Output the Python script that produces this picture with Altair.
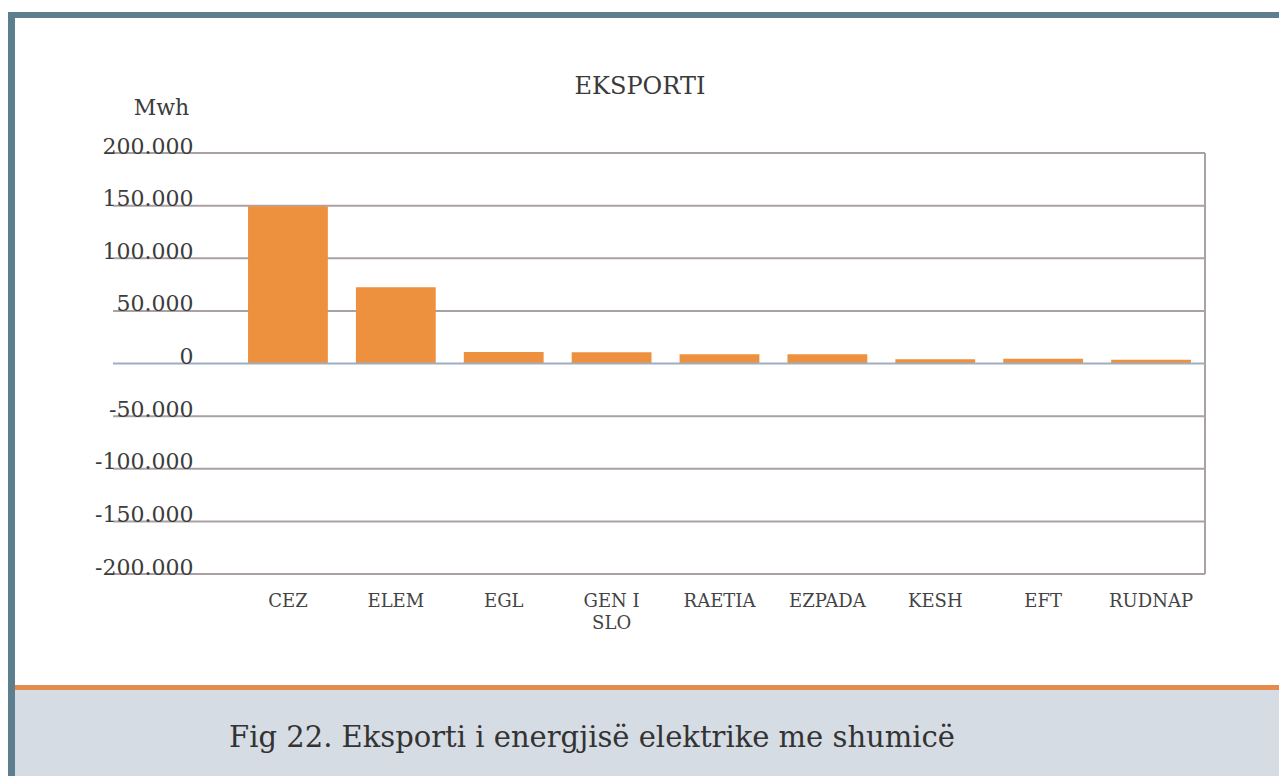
import altair as alt
import pandas as pd

# ---- data ----
categories = ["CEZ", "ELEM", "EGL", "GEN I SLO", "RAETIA", "EZPADA", "KESH", "EFT", "RUDNAP"]
export_mwh = [149500, 72500, 11000, 10800, 8800, 8800, 4000, 4600, 3600]
y_ticks = [-200000, -150000, -100000, -50000, 0, 50000, 100000, 150000, 200000]
chart_title = "EKSPORTI"
y_unit = "Mwh"
caption = "Fig 22. Eksporti i energjisë elektrike me shumicë"

FONT = "DejaVu Serif"
W, H = 971, 421

bars_df = pd.DataFrame({"company": categories, "value": export_mwh})
grid_df = pd.DataFrame({"tick": [t for t in y_ticks if t != 0]})
zero_df = pd.DataFrame({"tick": [0]})
one = pd.DataFrame({"k": [0]})

ysc = alt.Scale(domain=[y_ticks[0], y_ticks[-1]], nice=False, zero=False)

def box(x1, x2, y1, y2, color):
    return alt.Chart(one).mark_rect(color=color).encode(
        x=alt.value(x1), x2=alt.value(x2), y=alt.value(y1), y2=alt.value(y2))

frame_top = box(-226, 1045, -141, -135, "#5d7e8e")
frame_left = box(-226, -219, -141, 623, "#5d7e8e")
caption_panel = box(-219, 1045, 537, 623, "#d6dce3")
orange_line = box(-219, 1045, 532, 537, "#e38a4c")

grid = alt.Chart(grid_df).mark_rule(color="#aaa2a2", strokeWidth=2).encode(
    y=alt.Y("tick:Q", scale=ysc),
    x=alt.value(-121), x2=alt.value(W))

right_border = alt.Chart(one).mark_rule(color="#aaa2a2", strokeWidth=2).encode(
    x=alt.value(W), y=alt.value(0), y2=alt.value(H))

bars = alt.Chart(bars_df).mark_bar(color="#ee913f").encode(
    x=alt.X("company:N", sort=categories,
            scale=alt.Scale(paddingInner=0.26, paddingOuter=0.13),
            axis=alt.Axis(title=None, domain=False, ticks=False, labelAngle=0,
                          labelFont=FONT, labelFontSize=18, labelColor="#444444",
                          labelPadding=18, labelLineHeight=22, labelBaseline="top",
                          labelExpr="datum.value == 'GEN I SLO' ? ['GEN I', 'SLO'] : datum.value")),
    y=alt.Y("value:Q", scale=ysc,
            axis=alt.Axis(values=y_ticks, grid=False, domain=False, ticks=False,
                          labelFont=FONT, labelFontSize=22, labelColor="#3c3c3c",
                          labelPadding=41, labelBaseline="alphabetic", zindex=1,
                          labelExpr="(datum.value < 0 ? '-' : '') + replace(format(abs(datum.value), ','), ',', '.')",
                          title=y_unit, titleAngle=0, titleX=-73, titleY=-46,
                          titleAlign="center", titleBaseline="middle",
                          titleFont=FONT, titleFontSize=22, titleFontWeight="normal",
                          titleColor="#3c3c3c")),
)

zero_line = alt.Chart(zero_df).mark_rule(color="#9eaebf", strokeWidth=2).encode(
    y=alt.Y("tick:Q", scale=ysc),
    x=alt.value(-121), x2=alt.value(W))

title_txt = alt.Chart(one).mark_text(font=FONT, fontSize=24, color="#3a3a3a",
                                     align="center", baseline="middle").encode(
    x=alt.value(406), y=alt.value(-66), text=alt.value(chart_title))

caption_txt = alt.Chart(one).mark_text(font=FONT, fontSize=29, color="#333333",
                                       align="center", baseline="middle").encode(
    x=alt.value(358), y=alt.value(585), text=alt.value(caption))

chart = alt.layer(
    frame_top, frame_left, caption_panel, orange_line,
    grid, right_border, bars, zero_line, title_txt, caption_txt
).properties(
    width=W, height=H,
    autosize=alt.AutoSizeParams(type="none"),
    padding={"left": 226, "top": 145, "right": 74, "bottom": 202},
    background="#ffffff",
).configure_view(stroke=None)

chart.save("out.html", embed_options={"renderer": "svg", "actions": False})
